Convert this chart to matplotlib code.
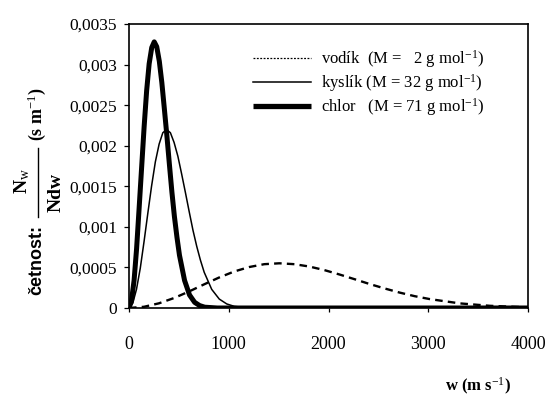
import matplotlib
matplotlib.use("Agg")
import matplotlib.pyplot as plt
from matplotlib.lines import Line2D

plt.rcParams['font.family'] = ['Liberation Serif', 'DejaVu Serif']
plt.rcParams['mathtext.fontset'] = 'custom'
plt.rcParams['mathtext.rm'] = 'Liberation Serif'
plt.rcParams['mathtext.it'] = 'Liberation Serif'
plt.rcParams['mathtext.bf'] = 'Liberation Serif:bold'

# ---- data (w in m/s, frequency in s/m) ----
w_chlor = [0, 25, 51, 76, 101, 127, 152, 177, 202, 228, 253, 278, 304, 329, 354,
           380, 405, 430, 455, 481, 506, 557, 607, 658, 708, 759, 886, 1000, 2000, 3000, 4000]
f_chlor = [0, 0.00009, 0.00034, 0.00073, 0.00122, 0.00174, 0.00224, 0.00268, 0.00301,
           0.00321, 0.00328, 0.00322, 0.00304, 0.00278, 0.00246, 0.00212, 0.00177,
           0.00143, 0.00113, 0.00087, 0.00065, 0.00034, 0.00016, 0.00007, 0.00003,
           0.00001, 0, 0, 0, 0, 0]

w_kyslik = [0, 38, 75, 113, 151, 189, 226, 264, 302, 339, 377, 415, 452, 490, 528,
            566, 603, 641, 679, 716, 754, 829, 905, 980, 1056, 1131, 1320, 2000, 3000, 4000]
f_kyslik = [0, 0.00006, 0.00023, 0.00049, 0.00082, 0.00117, 0.00150, 0.00180, 0.00202,
            0.00216, 0.00220, 0.00216, 0.00204, 0.00187, 0.00165, 0.00142, 0.00119,
            0.00096, 0.00076, 0.00059, 0.00044, 0.00023, 0.00011, 0.00005, 0.00002,
            0.00001, 0, 0, 0, 0]

w_vodik = [0, 151, 301, 452, 603, 754, 904, 1055, 1206, 1356, 1507, 1658, 1808, 1959,
           2110, 2261, 2411, 2562, 2713, 2863, 3014, 3315, 3617, 3918, 4000]
f_vodik = [0, 0.000015, 0.000058, 0.000123, 0.000204, 0.000292, 0.000376, 0.000450,
           0.000505, 0.000540, 0.000551, 0.000540, 0.000511, 0.000467, 0.000413,
           0.000355, 0.000296, 0.000241, 0.000190, 0.000146, 0.000110, 0.000057,
           0.000027, 0.000012, 0.000009]

y_ticks = [0, 0.0005, 0.001, 0.0015, 0.002, 0.0025, 0.003, 0.0035]
y_labels = ["0", "0,0005", "0,001", "0,0015", "0,002", "0,0025", "0,003", "0,0035"]
x_ticks = [0, 1000, 2000, 3000, 4000]
x_labels = ["0", "1000", "2000", "3000", "4000"]

legend_labels = [r"vodík  (M =   2 g mol$^{-1}$)",
                 r"kyslík (M = 32 g mol$^{-1}$)",
                 r"chlor   (M = 71 g mol$^{-1}$)"]

W, H = 547, 399
fig = plt.figure(figsize=(W/100, H/100), dpi=100)
ax = fig.add_axes([129/W, 1-308/H, (528-129)/W, (308-24)/H])

ax.plot(w_vodik, f_vodik, color='black', lw=1.7, linestyle=(0, (3.2, 2.2)))
ax.plot(w_kyslik, f_kyslik, color='black', lw=1.1)
ax.plot(w_chlor, f_chlor, color='black', lw=3.6, solid_capstyle='butt')

ax.set_xlim(0, 4000)
ax.set_ylim(0, 0.0035)
ax.set_yticks(y_ticks)
ax.set_yticklabels(y_labels)
ax.set_xticks(x_ticks)
ax.set_xticklabels(x_labels)
ax.tick_params(axis='y', direction='out', length=3.5, width=0.9, pad=5, labelsize=12.5)
ax.tick_params(axis='x', direction='out', length=3, width=0.9, pad=17, labelsize=13)
for s in ax.spines.values():
    s.set_linewidth(1.2)

handles = [Line2D([], [], color='black', lw=0.9, linestyle=(0, (1.5, 1.2))),
           Line2D([], [], color='black', lw=1.1),
           Line2D([], [], color='black', lw=3.8, solid_capstyle='butt')]
fig.legend(handles, legend_labels, loc='upper left', bbox_to_anchor=(253/W, 1-48/H),
           frameon=False, borderpad=0, borderaxespad=0, handlelength=3.5,
           handletextpad=0.6, labelspacing=0.12, fontsize=12)

# y-axis label: "četnost:  N_w / (N dw)  (s m^-1)", rotated
def fx(px):
    return px / W

def fy(py):
    return 1 - py / H

fig.text(fx(37), fy(260), "četnost:", rotation=90, ha='center', va='center',
         fontsize=13, fontweight='bold', family=['Liberation Sans', 'DejaVu Sans'])
fig.add_artist(Line2D([fx(38), fx(38)], [fy(148), fy(217)], color='black', lw=1.0,
                      transform=fig.transFigure))
fig.text(fx(22), fy(181), r"N$_w$", rotation=90, ha='center', va='center',
         fontsize=14, fontweight='bold')
fig.text(fx(56), fy(192), "Ndw", rotation=90, ha='center', va='center',
         fontsize=14, fontweight='bold')
fig.text(fx(37), fy(114), r"(s m$^{-1}$)", rotation=90, ha='center', va='center',
         fontsize=13, fontweight='bold')

fig.text(fx(478), fy(386), r"w (m s$^{-1}$)", ha='center', va='center',
         fontsize=12, fontweight='bold')

fig.savefig("out.png", dpi=100)
